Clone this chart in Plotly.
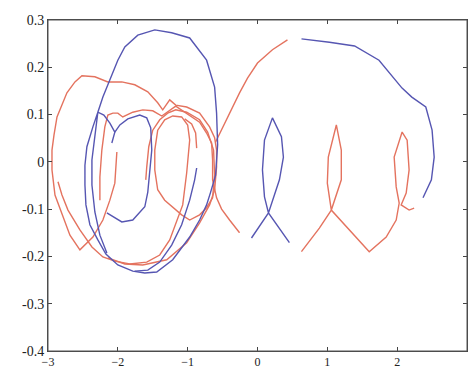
import plotly.graph_objects as go

# ---- data ----
blue_arc_x = [0.63, 1.03, 1.39, 1.74, 2.07, 2.21, 2.41, 2.50, 2.53, 2.49, 2.37]
blue_arc_y = [0.260, 0.253, 0.245, 0.215, 0.156, 0.137, 0.116, 0.067, 0.010, -0.038, -0.076]

blue_fish_x = [-0.086, 0.157, 0.314, 0.371, 0.343, 0.214, 0.100, 0.071, 0.100, 0.157, 0.457]
blue_fish_y = [-0.161, -0.108, -0.038, 0.010, 0.053, 0.093, 0.046, -0.017, -0.074, -0.108, -0.171]

blue_big_x = [-2.157, -2.257, -2.329, -2.371, -2.371, -2.329, -2.286, -2.214, -2.114, -2.0, -1.9,
              -1.714, -1.471, -1.229, -0.971, -0.729, -0.614, -0.586, -0.571, -0.6, -0.671, -0.729,
              -0.829, -0.971, -1.214, -1.443, -1.614, -1.786, -2.0, -2.171, -2.286, -2.4, -2.457,
              -2.471, -2.471, -2.443, -2.357, -2.286, -2.2, -2.114, -2.043, -2.086]
blue_big_y = [-0.193, -0.155, -0.106, -0.049, 0.004, 0.061, 0.105, 0.137, 0.173, 0.215, 0.243,
              0.268, 0.279, 0.273, 0.262, 0.215, 0.158, 0.103, 0.036, -0.028, -0.064, -0.091,
              -0.123, -0.159, -0.207, -0.233, -0.235, -0.231, -0.218, -0.195, -0.165, -0.133, -0.091,
              -0.049, -0.007, 0.032, 0.074, 0.105, 0.099, 0.082, 0.063, 0.040]

blue_hump_x = [-2.043, -1.971, -1.857, -1.686, -1.586, -1.529, -1.514, -1.543, -1.571, -1.614,
               -1.786, -1.943, -2.157]
blue_hump_y = [0.063, 0.078, 0.091, 0.099, 0.093, 0.072, 0.025, -0.028, -0.064, -0.095,
               -0.123, -0.127, -0.108]

blue_inner_x = [-0.871, -0.9, -0.971, -1.086, -1.229, -1.4, -1.571, -1.757]
blue_inner_y = [-0.013, -0.038, -0.081, -0.133, -0.176, -0.212, -0.229, -0.231]

red_loops_x = [0.629, 0.886, 1.057, 1.2, 1.2, 1.129, 1.014, 1.0, 1.057, 1.314, 1.6, 1.843, 1.986,
               2.029, 1.986, 1.957, 2.071, 2.143, 2.171, 2.129, 2.057, 2.171, 2.243]
red_loops_y = [-0.190, -0.140, -0.102, -0.038, 0.025, 0.078, 0.010, -0.045, -0.102, -0.144, -0.190,
               -0.159, -0.123, -0.087, -0.053, 0.010, 0.063, 0.046, -0.017, -0.066, -0.091, -0.102, -0.098]

red_arc_x = [0.429, 0.214, 0.0, -0.143, -0.257, -0.443, -0.543, -0.6]
red_arc_y = [0.258, 0.237, 0.209, 0.177, 0.146, 0.089, 0.061, 0.042]

red_outer_x = [-2.014, -2.043, -2.114, -2.214, -2.357, -2.543, -2.686, -2.8, -2.9, -2.943, -2.943,
               -2.914, -2.871, -2.729, -2.614, -2.514, -2.329, -2.143, -1.943, -1.757, -1.571,
               -1.429, -1.357, -1.257, -1.171, -1.014, -0.829, -0.686, -0.614, -0.586, -0.586,
               -0.614, -0.686, -0.829, -1.014, -1.3, -1.643, -1.9, -2.143]
red_outer_y = [0.021, -0.045, -0.081, -0.123, -0.159, -0.186, -0.155, -0.112, -0.070, -0.017, 0.025,
               0.057, 0.095, 0.146, 0.169, 0.182, 0.180, 0.169, 0.169, 0.163, 0.148,
               0.125, 0.110, 0.131, 0.120, 0.116, 0.103, 0.074, 0.051, 0.025, -0.011,
               -0.059, -0.091, -0.129, -0.171, -0.207, -0.218, -0.216, -0.203]

red_second_x = [-2.857, -2.8, -2.714, -2.543, -2.371, -2.214, -2.043, -1.829, -1.586, -1.4, -1.257,
                -1.157, -1.071, -1.014, -0.971, -1.0, -1.086, -1.214, -1.329, -1.429, -1.471, -1.471,
                -1.429, -1.329, -1.214, -1.086, -0.971, -0.829, -0.729, -0.643, -0.614, -0.629,
                -0.714, -0.829, -1.014, -1.171, -1.286, -1.4, -1.5, -1.557, -1.586, -1.6]
red_second_y = [-0.042, -0.070, -0.102, -0.144, -0.180, -0.201, -0.210, -0.216, -0.212, -0.197, -0.165,
                -0.127, -0.091, -0.023, 0.046, 0.078, 0.095, 0.097, 0.089, 0.067, 0.025, -0.017,
                -0.059, -0.081, -0.095, -0.112, -0.123, -0.112, -0.097, -0.076, -0.028, 0.025,
                0.063, 0.089, 0.105, 0.110, 0.103, 0.089, 0.067, 0.032, -0.011, -0.038]

red_inner_x = [-2.257, -2.257, -2.229, -2.186, -2.143, -2.071, -2.0, -1.929, -1.786, -1.643, -1.5,
               -1.371, -1.171, -1.0, -0.829, -0.729, -0.657, -0.643, -0.643, -0.586, -0.514, -0.4, -0.257]
red_inner_y = [-0.081, -0.032, 0.025, 0.074, 0.099, 0.103, 0.103, 0.095, 0.105, 0.110, 0.108,
               0.097, 0.118, 0.101, 0.084, 0.061, 0.040, 0.004, -0.038, -0.076, -0.100, -0.123, -0.150]

red_stub_x = [-0.871, -0.886, -0.943, -1.043]
red_stub_y = [0.029, 0.061, 0.080, 0.091]

x_ticks = [-3, -2, -1, 0, 1, 2]
y_ticks = [-0.4, -0.3, -0.2, -0.1, 0, 0.1, 0.2, 0.3]
y_tick_text = ["-0.4", "-0.3", "-0.2", "-0.1", "0", "0.1", "0.2", "0.3"]

RED = "#e4735f"
BLUE = "#5656b2"

fig = go.Figure()
series = [
    (red_outer_x, red_outer_y, RED),
    (red_second_x, red_second_y, RED),
    (red_inner_x, red_inner_y, RED),
    (red_arc_x, red_arc_y, RED),
    (red_stub_x, red_stub_y, RED),
    (red_loops_x, red_loops_y, RED),
    (blue_big_x, blue_big_y, BLUE),
    (blue_hump_x, blue_hump_y, BLUE),
    (blue_inner_x, blue_inner_y, BLUE),
    (blue_fish_x, blue_fish_y, BLUE),
    (blue_arc_x, blue_arc_y, BLUE),
]
for xs, ys, c in series:
    fig.add_trace(go.Scatter(x=xs, y=ys, mode="lines",
                             line=dict(color=c, width=1.4), hoverinfo="skip"))

fig.update_layout(
    width=468, height=370,
    margin=dict(l=48, r=1, t=20, b=19),
    paper_bgcolor="white", plot_bgcolor="white",
    showlegend=False,
    font=dict(family="Liberation Serif", size=14, color="#222"),
    shapes=[dict(type="rect", xref="paper", yref="paper", x0=0, y0=0, x1=1, y1=1,
                 line=dict(color="#555", width=1), layer="above")],
)
fig.update_xaxes(range=[-3, 3], tickvals=x_ticks, ticks="inside", ticklen=4,
                 tickfont=dict(size=12), ticklabelstandoff=0,
                 showline=True, linecolor="#444", linewidth=1, mirror="ticks",
                 showgrid=False, zeroline=False, automargin=False, tickcolor="#444")
fig.update_yaxes(range=[-0.4, 0.3], tickvals=y_ticks, ticktext=y_tick_text, ticks="inside", ticklen=4,
                 showline=True, linecolor="#444", linewidth=1, mirror="ticks",
                 showgrid=False, zeroline=False, automargin=False, tickcolor="#444")

fig.write_html("out.html", config={"displayModeBar": False},
               post_script="document.body.style.margin='0';document.body.style.overflow='hidden';")
